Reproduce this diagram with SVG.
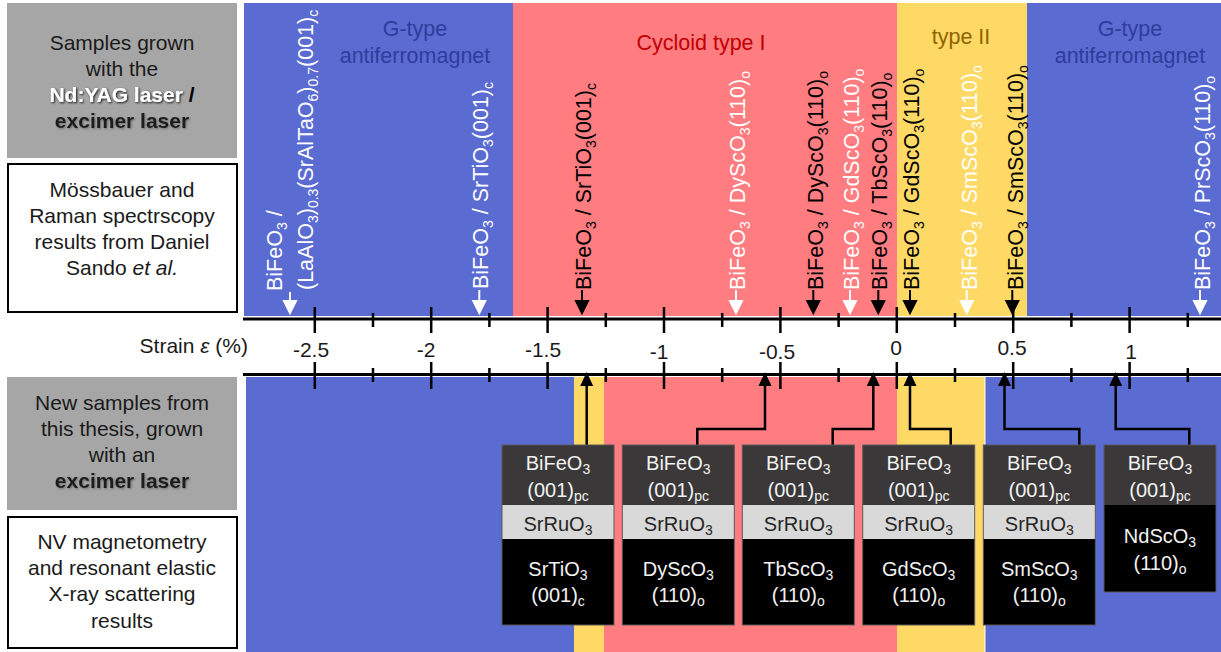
<svg xmlns="http://www.w3.org/2000/svg" width="1221" height="652" viewBox="0 0 1221 652">
<defs>
<style>
text{font-family:"Liberation Sans",Arial,sans-serif;}
.lt{font-size:21px;fill:#1a1a1a;text-anchor:middle;}
.reg{font-size:21.5px;text-anchor:middle;}
.rl{font-size:21.5px;}
.w{fill:#ffffff;}
.k{fill:#000000;}
.s{font-size:14px;}
.ax{font-size:21px;fill:#1a1a1a;text-anchor:middle;}
.bx{font-size:20px;text-anchor:middle;fill:#f2f2f2;}
.bxd{font-size:20px;text-anchor:middle;fill:#262626;}
.bs{font-size:14px;}
.tick{stroke:#000;stroke-width:2.5;fill:none;}
.conn{stroke:#000;stroke-width:2.5;fill:none;}
.wa{fill:#fff;stroke:#fff;}
.ka{fill:#000;stroke:#000;}
</style>
<filter id="shw" x="-10%" y="-30%" width="120%" height="160%"><feDropShadow dx="1" dy="1" stdDeviation="0.8" flood-color="#000" flood-opacity="0.9"/></filter>
<filter id="shk" x="-10%" y="-30%" width="120%" height="160%"><feDropShadow dx="1" dy="1" stdDeviation="1" flood-color="#555" flood-opacity="0.7"/></filter>
</defs>
<rect x="0" y="0" width="1221" height="652" fill="#ffffff"/>

<g id="regions">
<rect x="244" y="3" width="269" height="313" fill="#5a6bd2"/>
<rect x="513" y="3" width="384" height="313" fill="#ff7c80"/>
<rect x="897" y="3" width="130" height="313" fill="#ffd966"/>
<rect x="1027" y="3" width="194" height="313" fill="#5a6bd2"/>
<rect x="246" y="377" width="328" height="275" fill="#5a6bd2"/>
<rect x="574" y="377" width="30" height="275" fill="#ffd966"/>
<rect x="604" y="377" width="293" height="275" fill="#ff7c80"/>
<rect x="897" y="377" width="87.5" height="275" fill="#ffd966"/>
<rect x="985.5" y="377" width="235.5" height="275" fill="#5a6bd2"/>
<text class="reg" x="415" y="36" fill="#2f3d9c">G-type</text>
<text class="reg" x="415" y="63" fill="#2f3d9c">antiferromagnet</text>
<text class="reg" x="701" y="50" fill="#c00000">Cycloid type I</text>
<text class="reg" x="961" y="44" fill="#8f6400">type II</text>
<text class="reg" x="1130" y="36" fill="#2f3d9c">G-type</text>
<text class="reg" x="1130" y="63" fill="#2f3d9c">antiferromagnet</text>
</g>

<g id="row-labels">
<g id="label-samples-top">
<rect x="7" y="3" width="230" height="155" fill="#a6a6a6"/>
<text class="lt" x="122" y="50">Samples grown</text>
<text class="lt" x="122" y="76">with the</text>
<text class="lt" x="122" y="102" font-weight="bold"><tspan fill="#ffffff" filter="url(#shw)">Nd:YAG laser</tspan><tspan fill="#000"> /</tspan></text>
<text class="lt" x="122" y="128" font-weight="bold" fill="#000" filter="url(#shk)">excimer laser</text>
</g>
<g id="label-methods-top">
<rect x="8" y="164" width="229" height="148" fill="#ffffff" stroke="#000" stroke-width="2"/>
<text class="lt" x="122" y="197">Mössbauer and</text>
<text class="lt" x="122" y="223">Raman spectrscopy</text>
<text class="lt" x="122" y="249">results from Daniel</text>
<text class="lt" x="122" y="275">Sando <tspan font-style="italic">et al.</tspan></text>
</g>
<g id="label-samples-bottom">
<rect x="7" y="377" width="230" height="133" fill="#a6a6a6"/>
<text class="lt" x="122" y="410">New samples from</text>
<text class="lt" x="122" y="436">this thesis, grown</text>
<text class="lt" x="122" y="462">with an</text>
<text class="lt" x="122" y="488" font-weight="bold" fill="#000" filter="url(#shk)">excimer laser</text>
</g>
<g id="label-methods-bottom">
<rect x="8" y="517" width="229" height="131" fill="#ffffff" stroke="#000" stroke-width="2"/>
<text class="lt" x="122" y="549">NV magnetometry</text>
<text class="lt" x="122" y="575">and resonant elastic</text>
<text class="lt" x="122" y="601">X-ray scattering</text>
<text class="lt" x="122" y="628">results</text>
</g>
</g>

<g id="axis">
<line x1="243" y1="319" x2="1221" y2="319" stroke="#000" stroke-width="3"/>
<line x1="243" y1="374.5" x2="1221" y2="374.5" stroke="#000" stroke-width="3"/>
<path class="tick" d="M314.8 307V333M431.2 307V333M547.6 307V333M664 307V333M780.4 307V333M896.8 307V333M1013.2 307V333M1129.6 307V333
M373 313V327M489.4 313V327M605.8 313V327M722.2 313V327M838.6 313V327M955 313V327M1071.4 313V327M1187.8 313V327
M314.8 362V389M431.2 362V389M547.6 362V389M664 362V389M780.4 362V389M896.8 362V389M1013.2 362V389M1129.6 362V389
M373 368V382M489.4 368V382M605.8 368V382M722.2 368V382M838.6 368V382M955 368V382M1071.4 368V382M1187.8 368V382"/>
<text x="248" y="353" font-size="21" fill="#1a1a1a" text-anchor="end">Strain <tspan font-style="italic">ε</tspan> (%)</text>
<text class="ax" x="311" y="357">-2.5</text>
<text class="ax" x="426" y="357">-2</text>
<text class="ax" x="543" y="357">-1.5</text>
<text class="ax" x="659" y="359">-1</text>
<text class="ax" x="777" y="359">-0.5</text>
<text class="ax" x="896" y="355">0</text>
<text class="ax" x="1012" y="355">0.5</text>
<text class="ax" x="1131" y="359">1</text>
</g>

<g id="literature-labels">
<g id="lit-lao">
<path class="wa" d="M290 292V302M284 301H296L290 313Z" stroke-width="2"/>
<text class="rl w" transform="translate(281.5,291) rotate(-90)">BiFeO<tspan class="s" dy="5">3</tspan><tspan dy="-5"> /</tspan></text>
<text class="rl w" transform="translate(313,290) rotate(-90)">(LaAlO<tspan class="s" dy="5">3</tspan><tspan dy="-5">)</tspan><tspan class="s" dy="5">0.3</tspan><tspan dy="-5">(SrAlTaO</tspan><tspan class="s" dy="5">6</tspan><tspan dy="-5">)</tspan><tspan class="s" dy="5">0.7</tspan><tspan dy="-5">(001)</tspan><tspan class="s" dy="5">c</tspan></text>
</g>
<g id="lit-sto-w">
<path class="wa" d="M479.3 290V302M473.3 301H485.3L479.3 313Z" stroke-width="2"/>
<text class="rl w" transform="translate(488,289) rotate(-90)">BiFeO<tspan class="s" dy="5">3</tspan><tspan dy="-5"> / SrTiO</tspan><tspan class="s" dy="5">3</tspan><tspan dy="-5">(001)</tspan><tspan class="s" dy="5">c</tspan></text>
</g>
<g id="lit-sto-k">
<path class="ka" d="M582 290V302M576 301H588L582 313Z" stroke-width="2"/>
<text class="rl k" transform="translate(590.5,290) rotate(-90)">BiFeO<tspan class="s" dy="5">3</tspan><tspan dy="-5"> / SrTiO</tspan><tspan class="s" dy="5">3</tspan><tspan dy="-5">(001)</tspan><tspan class="s" dy="5">c</tspan></text>
</g>
<g id="lit-dso-w">
<path class="wa" d="M736 290V302M730 301H742L736 313Z" stroke-width="2"/>
<text class="rl w" transform="translate(744.5,290) rotate(-90)">BiFeO<tspan class="s" dy="5">3</tspan><tspan dy="-5"> / DyScO</tspan><tspan class="s" dy="5">3</tspan><tspan dy="-5">(110)</tspan><tspan class="s" dy="5">o</tspan></text>
</g>
<g id="lit-dso-k">
<path class="ka" d="M813.3 290V302M807.3 301H819.3L813.3 313Z" stroke-width="2"/>
<text class="rl k" transform="translate(822.5,290) rotate(-90)">BiFeO<tspan class="s" dy="5">3</tspan><tspan dy="-5"> / DyScO</tspan><tspan class="s" dy="5">3</tspan><tspan dy="-5">(110)</tspan><tspan class="s" dy="5">o</tspan></text>
</g>
<g id="lit-gso-w">
<path class="wa" d="M850 290V302M844 301H856L850 313Z" stroke-width="2"/>
<text class="rl w" transform="translate(859,290) rotate(-90)">BiFeO<tspan class="s" dy="5">3</tspan><tspan dy="-5"> / GdScO</tspan><tspan class="s" dy="5">3</tspan><tspan dy="-5">(110)</tspan><tspan class="s" dy="5">o</tspan></text>
</g>
<g id="lit-tso-k">
<path class="ka" d="M878.3 290V302M872.3 301H884.3L878.3 313Z" stroke-width="2"/>
<text class="rl k" transform="translate(886.5,290) rotate(-90)">BiFeO<tspan class="s" dy="5">3</tspan><tspan dy="-5"> / TbScO</tspan><tspan class="s" dy="5">3</tspan><tspan dy="-5">(110)</tspan><tspan class="s" dy="5">o</tspan></text>
</g>
<g id="lit-gso-k">
<path class="ka" d="M910 290V302M904 301H916L910 313Z" stroke-width="2"/>
<text class="rl k" transform="translate(918.5,290) rotate(-90)">BiFeO<tspan class="s" dy="5">3</tspan><tspan dy="-5"> / GdScO</tspan><tspan class="s" dy="5">3</tspan><tspan dy="-5">(110)</tspan><tspan class="s" dy="5">o</tspan></text>
</g>
<g id="lit-smso-w">
<path class="wa" d="M966.7 290V302M960.7 301H972.7L966.7 313Z" stroke-width="2"/>
<text class="rl w" transform="translate(976.5,290) rotate(-90)">BiFeO<tspan class="s" dy="5">3</tspan><tspan dy="-5"> / SmScO</tspan><tspan class="s" dy="5">3</tspan><tspan dy="-5">(110)</tspan><tspan class="s" dy="5">o</tspan></text>
</g>
<g id="lit-smso-k">
<path class="ka" d="M1012.3 290V302M1006.3 301H1018.3L1012.3 313Z" stroke-width="2"/>
<text class="rl k" transform="translate(1023,290) rotate(-90)">BiFeO<tspan class="s" dy="5">3</tspan><tspan dy="-5"> / SmScO</tspan><tspan class="s" dy="5">3</tspan><tspan dy="-5">(110)</tspan><tspan class="s" dy="5">o</tspan></text>
</g>
<g id="lit-pso-w">
<path class="wa" d="M1200 290V302M1194 301H1206L1200 313Z" stroke-width="2"/>
<text class="rl w" transform="translate(1209.5,290) rotate(-90)">BiFeO<tspan class="s" dy="5">3</tspan><tspan dy="-5"> / PrScO</tspan><tspan class="s" dy="5">3</tspan><tspan dy="-5">(110)</tspan><tspan class="s" dy="5">o</tspan></text>
</g>
</g>

<g id="connectors">
<path class="conn" d="M586.7 445V385"/>
<path class="conn" d="M697.3 445V429H765V385"/>
<path class="conn" d="M832.7 445V429H873.3V385"/>
<path class="conn" d="M950.7 445V429H910V385"/>
<path class="conn" d="M1079.3 445V429H1004.5V385"/>
<path class="conn" d="M1189.3 445V429H1115.7V385"/>
<path fill="#000" d="M586.7 372L593.2 386H580.2ZM765 372L771.5 386H758.5ZM873.3 372L879.8 386H866.8ZM910 372L916.5 386H903.5ZM1004.5 372L1011 386H998ZM1115.7 372L1122.2 386H1109.2Z"/>
</g>

<g id="sample-sto">
<rect x="502" y="445" width="112" height="60" fill="#3a3838"/>
<rect x="502" y="505" width="112" height="34" fill="#d9d9d9"/>
<rect x="502" y="539" width="112" height="86" fill="#000"/>
<rect x="502" y="445" width="112" height="180" fill="none" stroke="#595959" stroke-width="1"/>
<text class="bx" x="558" y="470">BiFeO<tspan class="bs" dy="4">3</tspan></text>
<text class="bx" x="558" y="497">(001)<tspan class="bs" dy="4">pc</tspan></text>
<text class="bxd" x="558" y="531">SrRuO<tspan class="bs" dy="4">3</tspan></text>
<text class="bx" x="558" y="576">SrTiO<tspan class="bs" dy="4">3</tspan></text>
<text class="bx" x="558" y="602">(001)<tspan class="bs" dy="4">c</tspan></text>
</g>
<g id="sample-dso">
<rect x="622.3" y="445" width="112" height="60" fill="#3a3838"/>
<rect x="622.3" y="505" width="112" height="34" fill="#d9d9d9"/>
<rect x="622.3" y="539" width="112" height="86" fill="#000"/>
<rect x="622.3" y="445" width="112" height="180" fill="none" stroke="#595959" stroke-width="1"/>
<text class="bx" x="678.3" y="470">BiFeO<tspan class="bs" dy="4">3</tspan></text>
<text class="bx" x="678.3" y="497">(001)<tspan class="bs" dy="4">pc</tspan></text>
<text class="bxd" x="678.3" y="531">SrRuO<tspan class="bs" dy="4">3</tspan></text>
<text class="bx" x="678.3" y="576">DyScO<tspan class="bs" dy="4">3</tspan></text>
<text class="bx" x="678.3" y="602">(110)<tspan class="bs" dy="4">o</tspan></text>
</g>
<g id="sample-tso">
<rect x="742.3" y="445" width="112" height="60" fill="#3a3838"/>
<rect x="742.3" y="505" width="112" height="34" fill="#d9d9d9"/>
<rect x="742.3" y="539" width="112" height="86" fill="#000"/>
<rect x="742.3" y="445" width="112" height="180" fill="none" stroke="#595959" stroke-width="1"/>
<text class="bx" x="798.3" y="470">BiFeO<tspan class="bs" dy="4">3</tspan></text>
<text class="bx" x="798.3" y="497">(001)<tspan class="bs" dy="4">pc</tspan></text>
<text class="bxd" x="798.3" y="531">SrRuO<tspan class="bs" dy="4">3</tspan></text>
<text class="bx" x="798.3" y="576">TbScO<tspan class="bs" dy="4">3</tspan></text>
<text class="bx" x="798.3" y="602">(110)<tspan class="bs" dy="4">o</tspan></text>
</g>
<g id="sample-gso">
<rect x="862.7" y="445" width="112" height="60" fill="#3a3838"/>
<rect x="862.7" y="505" width="112" height="34" fill="#d9d9d9"/>
<rect x="862.7" y="539" width="112" height="86" fill="#000"/>
<rect x="862.7" y="445" width="112" height="180" fill="none" stroke="#595959" stroke-width="1"/>
<text class="bx" x="918.7" y="470">BiFeO<tspan class="bs" dy="4">3</tspan></text>
<text class="bx" x="918.7" y="497">(001)<tspan class="bs" dy="4">pc</tspan></text>
<text class="bxd" x="918.7" y="531">SrRuO<tspan class="bs" dy="4">3</tspan></text>
<text class="bx" x="918.7" y="576">GdScO<tspan class="bs" dy="4">3</tspan></text>
<text class="bx" x="918.7" y="602">(110)<tspan class="bs" dy="4">o</tspan></text>
</g>
<g id="sample-smso">
<rect x="983.3" y="445" width="112" height="60" fill="#3a3838"/>
<rect x="983.3" y="505" width="112" height="34" fill="#d9d9d9"/>
<rect x="983.3" y="539" width="112" height="86" fill="#000"/>
<rect x="983.3" y="445" width="112" height="180" fill="none" stroke="#595959" stroke-width="1"/>
<text class="bx" x="1039.3" y="470">BiFeO<tspan class="bs" dy="4">3</tspan></text>
<text class="bx" x="1039.3" y="497">(001)<tspan class="bs" dy="4">pc</tspan></text>
<text class="bxd" x="1039.3" y="531">SrRuO<tspan class="bs" dy="4">3</tspan></text>
<text class="bx" x="1039.3" y="576">SmScO<tspan class="bs" dy="4">3</tspan></text>
<text class="bx" x="1039.3" y="602">(110)<tspan class="bs" dy="4">o</tspan></text>
</g>
<g id="sample-nso">
<rect x="1104" y="445" width="112" height="60" fill="#3a3838"/>
<rect x="1104" y="505" width="112" height="87" fill="#000"/>
<rect x="1104" y="445" width="112" height="147" fill="none" stroke="#595959" stroke-width="1"/>
<text class="bx" x="1160" y="470">BiFeO<tspan class="bs" dy="4">3</tspan></text>
<text class="bx" x="1160" y="497">(001)<tspan class="bs" dy="4">pc</tspan></text>
<text class="bx" x="1160" y="543">NdScO<tspan class="bs" dy="4">3</tspan></text>
<text class="bx" x="1160" y="570">(110)<tspan class="bs" dy="4">o</tspan></text>
</g>
</svg>
